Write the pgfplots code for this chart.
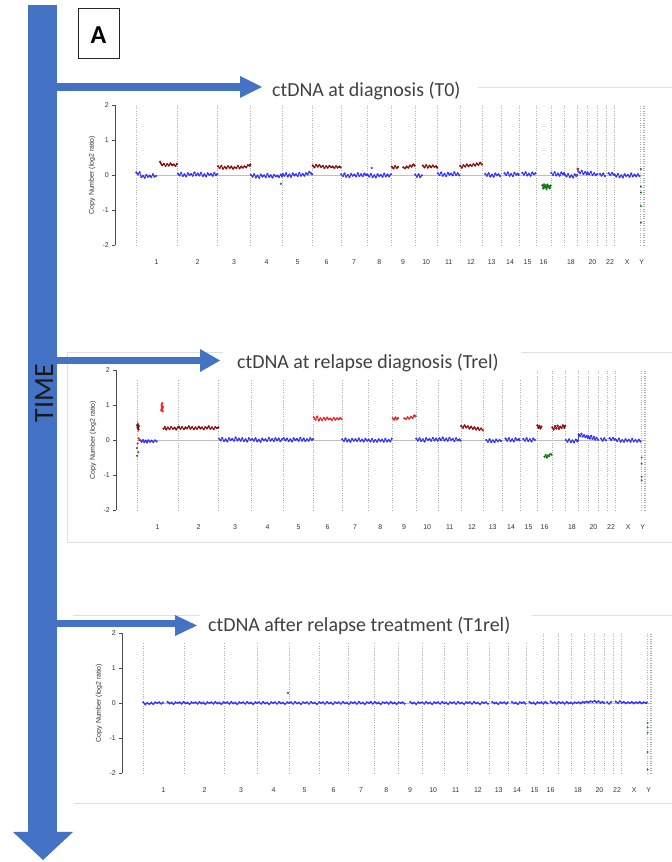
\documentclass[border=0pt]{standalone}
\usepackage{fontspec}
\setmainfont{Liberation Sans}
\newfontfamily\carlito{Carlito}
\usepackage{pgfplots}
\pgfplotsset{compat=1.18}
\definecolor{cnblue}{RGB}{50,50,255}
\definecolor{cndred}{RGB}{140,10,10}
\definecolor{cnred}{RGB}{240,30,30}
\definecolor{cngreen}{RGB}{20,120,20}
\definecolor{cnorange}{RGB}{230,90,20}
\definecolor{arrowblue}{RGB}{68,114,196}
\definecolor{titlegray}{RGB}{64,64,64}
\pgfplotsset{
  cnv/.style={
    scale only axis, width=551.95bp, height=140bp,
    xmin=-125, xmax=3200, ymin=-2, ymax=2,
    axis x line*=bottom, axis y line*=left,
    x axis line style={draw=none},
    y axis line style={draw=black!70, line width=0.5bp},
    ytick={-2,-1,0,1,2},
    /pgf/number format/assume math mode=true,
    yticklabel style={font=\fontsize{7}{8}\selectfont, text=black!80},
    ytick style={draw=black!70, line width=0.5bp},
    tick align=outside, major tick length=3bp,
    xtick={124.5,370.5,591,786,972.5,1148.5,1313.5,1466,1609.5,1748,1883.5,2018,2142.5,2253.5,2358.5,2455,2620,2749.5,2855.5,2958.5,3046},
    xticklabels={1,2,3,4,5,6,7,8,9,10,11,12,13,14,15,16,18,20,22,X,Y},
    xtick style={draw=none},
    xticklabel style={font=\fontsize{7}{8}\selectfont, text=black!80, yshift=-8bp},
    extra x ticks={0,249,492,690,882,1063,1234,1393,1539,1680,1816,1951,2085,2200,2307,2410,2500,2581,2659,2718,2781,2830,2881,3036,3054,3062},
    extra x tick labels={},
    extra x tick style={grid=major, major grid style={black!32, dotted, line width=0.5bp}, tick style={draw=none}},
    ylabel={Copy Number (log2 ratio)},
    every axis y label/.style={at={(axis description cs:-0.042,0.5)}, rotate=90, anchor=center, font=\fontsize{7}{8}\selectfont, text=black!80},
    clip=false,
    unbounded coords=jump,
  },
  zline/.style={black!25, line width=0.6bp},
  segB/.style={draw=cnblue, line width=0.8bp, mark=*, mark size=1.0bp, mark options={fill=cnblue, draw=cnblue, line width=0.2bp}},
  segD/.style={draw=cndred, line width=0.8bp, mark=*, mark size=1.0bp, mark options={fill=cndred, draw=cndred, line width=0.2bp}},
  segR/.style={draw=cnred, line width=0.8bp, mark=*, mark size=1.0bp, mark options={fill=cnred, draw=cnred, line width=0.2bp}},
  segG/.style={draw=cngreen, line width=0.8bp, mark=*, mark size=1.0bp, mark options={fill=cngreen, draw=cngreen, line width=0.2bp}},
  dotG/.style={only marks, mark=*, mark size=0.75bp, mark options={fill=cngreen, draw=cngreen}},
}
\begin{document}
\begin{tikzpicture}[x=1bp,y=1bp]
\path[use as bounding box] (0,0) rectangle (672,862);
% light panel frames
\draw[black!12, line width=0.8bp] (478,775) -- (672,775);
\draw[black!12, line width=0.8bp] (672,510) -| (67,320) -- (672,320);
\draw[black!12, line width=0.8bp] (73,247) -- (672,247);
\draw[black!12, line width=0.8bp] (74,59) -- (672,59);

% ---------------- Panel 1: T0 ----------------
\begin{axis}[cnv, at={(115.25bp,617bp)}, anchor=south west]
\addplot[zline] coordinates {(0,0)(3062,0)};
\addplot[segB] coordinates {
(2,0.07)(12,0.02)(22,0.08)(32,-0.06)(42,-0.02)(52,-0.08)(62,0.0)(72,-0.05)(82,-0.02)(92,-0.06)(102,0.02)(112,-0.05)(120,-0.03)(121,nan)
(252,0.04)(262,-0.01)(272,0.06)(282,-0.03)(292,0.02)(302,-0.04)(312,0.05)(322,0.0)(332,0.03)(342,-0.02)(352,0.07)(362,-0.01)(372,0.04)(382,-0.01)(392,0.06)(402,-0.03)(412,0.02)(422,-0.04)(432,0.05)(442,0.0)(452,0.03)(462,-0.02)(472,0.06)(482,-0.01)(490,0.03)(491,nan)
(692,0.0)(702,-0.05)(712,0.02)(722,-0.07)(732,-0.02)(742,-0.08)(752,0.01)(762,-0.04)(772,-0.01)(782,-0.06)(792,0.03)(802,-0.05)(812,-0.01)(822,-0.07)(832,0.0)(842,-0.04)(852,-0.02)(862,-0.06)(872,0.01)(880,-0.04)
(884,0.03)(894,-0.02)(904,0.05)(914,-0.04)(924,0.01)(934,-0.05)(944,0.04)(954,-0.01)(964,0.02)(974,-0.03)(984,0.06)(994,-0.02)(1004,0.03)(1014,-0.02)(1024,0.05)(1034,0.02)(1044,0.09)(1054,0.05)(1061,0.02)(1062,nan)
(1236,0.02)(1246,-0.03)(1256,0.04)(1266,-0.05)(1276,0.0)(1286,-0.06)(1296,0.03)(1306,-0.02)(1316,0.01)(1326,-0.04)(1336,0.05)(1346,-0.03)(1356,0.02)(1366,-0.03)(1376,0.04)(1386,-0.01)(1391,0.01)
(1395,0.01)(1405,-0.04)(1415,0.03)(1425,-0.06)(1435,-0.01)(1445,-0.07)(1455,0.02)(1465,-0.03)(1475,0.0)(1485,-0.05)(1495,0.04)(1505,-0.04)(1515,0.01)(1525,-0.04)(1535,0.02)(1536,nan)
(1420,0.2)(1421,nan)
(1682,0.01)(1692,-0.05)(1702,0.02)(1712,-0.06)(1722,-0.01)(1723,nan)
(1818,0.05)(1828,0.0)(1838,0.07)(1848,-0.02)(1858,0.03)(1868,-0.03)(1878,0.06)(1888,0.01)(1898,0.04)(1908,-0.01)(1918,0.08)(1928,0.0)(1938,0.05)(1948,-0.01)(1949,nan)
(2104,0.03)(2114,-0.02)(2124,0.05)(2134,-0.04)(2144,0.01)(2154,-0.05)(2164,0.04)(2174,-0.01)(2184,0.02)(2194,-0.03)(2195,nan)
(2220,0.05)(2230,0.0)(2240,0.07)(2250,-0.02)(2260,0.03)(2270,-0.03)(2280,0.06)(2290,0.01)(2300,0.04)(2305,0.0)(2306,nan)
(2327,0.06)(2337,0.01)(2347,0.08)(2357,-0.01)(2367,0.04)(2377,-0.02)(2387,0.07)(2397,0.02)(2406,0.05)(2407,nan)
(2502,0.06)(2512,0.0)(2522,0.08)(2532,-0.01)(2542,0.04)(2552,-0.02)(2562,0.07)(2572,0.02)(2579,0.05)
(2583,0.01)(2593,-0.04)(2603,0.03)(2613,-0.06)(2623,-0.01)(2633,-0.07)(2643,0.02)(2653,-0.03)(2657,0.0)(2658,nan)
(2665,0.1)(2675,0.05)(2685,0.12)(2695,0.03)(2705,0.08)(2715,0.02)
(2720,0.07)(2730,0.02)(2740,0.09)(2750,0.0)(2760,0.05)(2770,-0.01)(2779,0.03)(2780,nan)
(2795,0.03)(2805,-0.02)(2815,0.04)(2825,-0.03)(2826,nan)
(2847,0.05)(2857,0.0)(2867,0.06)(2877,0.01)
(2883,0.01)(2893,-0.04)(2903,0.03)(2913,-0.06)(2923,-0.01)(2933,-0.07)(2943,0.02)(2953,-0.03)(2963,0.0)(2973,-0.05)(2983,0.04)(2993,-0.04)(3003,0.01)(3013,-0.04)(3023,0.02)(3033,-0.03)
};
\addplot[segD] coordinates {
(145,0.38)(150,0.33)(158,0.28)(168,0.32)(178,0.26)(188,0.31)(198,0.27)(208,0.33)(218,0.28)(228,0.3)(238,0.26)(247,0.32)(248,nan)
(494,0.25)(504,0.2)(514,0.26)(524,0.18)(534,0.23)(544,0.19)(554,0.25)(564,0.2)(574,0.24)(584,0.18)(594,0.22)(604,0.2)(614,0.26)(624,0.19)(634,0.24)(644,0.21)(654,0.25)(664,0.22)(674,0.28)(684,0.26)(688,0.3)(689,nan)
(1065,0.27)(1075,0.22)(1085,0.29)(1095,0.24)(1105,0.28)(1115,0.23)(1125,0.26)(1135,0.2)(1145,0.25)(1155,0.21)(1165,0.26)(1175,0.22)(1185,0.24)(1195,0.2)(1205,0.25)(1215,0.21)(1225,0.24)(1232,0.22)(1233,nan)
(1541,0.24)(1551,0.19)(1561,0.25)(1571,0.2)(1578,0.23)(1579,nan)
(1610,0.22)(1620,0.19)(1630,0.24)(1640,0.21)(1650,0.27)(1660,0.24)(1670,0.3)(1678,0.27)(1679,nan)
(1728,0.27)(1738,0.22)(1748,0.28)(1758,0.21)(1768,0.26)(1778,0.22)(1788,0.27)(1798,0.23)(1808,0.25)(1814,0.21)(1815,nan)
(1953,0.26)(1963,0.21)(1973,0.28)(1983,0.24)(1993,0.3)(2003,0.25)(2013,0.29)(2023,0.26)(2033,0.31)(2043,0.27)(2053,0.33)(2063,0.29)(2073,0.35)(2083,0.3)
};
\addplot[segG] coordinates {
(873,-0.25)(874,nan)
(2448,-0.29)(2453,-0.38)(2458,-0.27)(2463,-0.36)(2468,-0.3)(2473,-0.4)(2478,-0.28)(2483,-0.35)(2488,-0.31)(2493,-0.38)(2498,-0.3)
};
\addplot[only marks, mark=*, mark size=1.2bp, mark options={fill=cnorange, draw=cndred}] coordinates {(2662,0.17)};
\addplot[dotG] coordinates {(3042,0.17)(3042,-0.33)(3042,-0.5)(3042,-0.89)(3042,-1.36)};
\end{axis}

% ---------------- Panel 2: Trel ----------------
\begin{axis}[cnv, at={(116.25bp,352bp)}, anchor=south west]
\addplot[zline] coordinates {(0,0)(3062,0)};
\addplot[segB] coordinates {
(20,-0.01)(28,-0.05)(36,0.0)(44,-0.06)(52,-0.02)(60,-0.07)(68,-0.01)(78,-0.05)(88,-0.02)(98,-0.06)(108,-0.01)(118,-0.04)(119,nan)
(494,0.04)(504,-0.01)(514,0.06)(524,-0.03)(534,0.02)(544,-0.04)(554,0.05)(564,0.0)(574,0.03)(584,-0.02)(594,0.07)(604,-0.01)(614,0.04)(624,-0.02)(634,0.05)(644,-0.03)(654,0.02)(664,-0.04)(674,0.05)(684,0.0)
(694,0.03)(704,-0.02)(714,0.05)(724,-0.04)(734,0.01)(744,-0.05)(754,0.04)(764,-0.01)(774,0.02)(784,-0.03)(794,0.06)(804,-0.02)(814,0.03)(824,-0.03)(834,0.05)(844,-0.01)(854,0.04)(864,-0.03)(874,0.02)
(884,0.05)(894,-0.01)(904,0.04)(914,-0.03)(924,0.02)(934,-0.04)(944,0.05)(954,0.0)(964,0.03)(974,-0.02)(984,0.06)(994,-0.02)(1004,0.04)(1014,-0.03)(1024,0.02)(1034,-0.02)(1044,0.05)(1054,0.0)(1061,0.03)(1062,nan)
(1236,0.02)(1246,-0.03)(1256,0.04)(1266,-0.04)(1276,0.01)(1286,-0.05)(1296,0.03)(1306,-0.02)(1316,0.02)(1326,-0.03)(1336,0.04)(1346,-0.03)(1356,0.01)(1366,-0.04)(1376,0.03)(1386,-0.02)(1396,0.01)(1406,-0.04)(1416,0.03)(1426,-0.05)(1436,0.0)(1446,-0.05)(1456,0.02)(1466,-0.03)(1476,0.01)(1486,-0.05)(1496,0.03)(1506,-0.04)(1516,0.0)(1526,-0.04)(1535,0.04)(1536,nan)
(1682,0.04)(1692,-0.02)(1702,0.05)(1712,-0.03)(1722,0.02)(1732,-0.04)(1742,0.05)(1752,0.0)(1762,0.03)(1772,-0.02)(1782,0.06)(1792,-0.01)(1802,0.04)(1812,-0.02)(1822,0.05)(1832,0.0)(1842,0.07)(1852,-0.01)(1862,0.04)(1872,-0.02)(1882,0.06)(1892,0.0)(1902,0.03)(1912,-0.03)(1922,0.05)(1932,-0.01)(1942,0.02)(1949,-0.02)(1950,nan)
(2104,0.0)(2114,-0.05)(2124,0.02)(2134,-0.06)(2144,-0.01)(2154,-0.06)(2164,0.01)(2174,-0.04)(2184,0.0)(2194,-0.03)(2195,nan)
(2220,0.04)(2230,-0.02)(2240,0.05)(2250,-0.03)(2260,0.02)(2270,-0.04)(2280,0.05)(2290,0.0)(2300,0.03)(2305,-0.01)(2306,nan)
(2327,0.03)(2337,-0.02)(2347,0.05)(2357,-0.03)(2367,0.02)(2377,-0.04)(2387,0.04)(2397,0.0)(2398,nan)
(2583,0.0)(2593,-0.05)(2603,0.02)(2613,-0.06)(2623,-0.01)(2633,-0.07)(2643,0.01)(2653,-0.04)(2657,-0.01)
(2661,0.16)(2669,0.11)(2677,0.18)(2685,0.1)(2693,0.14)(2701,0.08)(2709,0.12)(2716,0.06)
(2720,0.1)(2728,0.04)(2736,0.12)(2744,0.03)(2752,0.09)(2760,0.01)(2768,0.06)(2778,0.0)(2779,nan)
(2795,0.04)(2805,-0.02)(2815,0.05)(2825,-0.01)(2826,nan)
(2847,0.05)(2857,0.0)(2867,0.06)(2877,0.01)
(2883,0.02)(2893,-0.03)(2903,0.04)(2913,-0.05)(2923,0.0)(2933,-0.05)(2943,0.02)(2953,-0.03)(2963,0.01)(2973,-0.05)(2983,0.03)(2993,-0.04)(3003,0.0)(3013,-0.05)(3023,0.01)(3033,-0.04)
};
\addplot[segD] coordinates {
(1,0.42)(3,0.35)(5,0.45)(7,0.38)(9,0.31)(11,0.4)(12,nan)
(160,0.32)(168,0.37)(176,0.3)(186,0.36)(196,0.31)(206,0.37)(216,0.32)(226,0.35)(236,0.3)(246,0.36)
(252,0.38)(262,0.32)(272,0.37)(282,0.31)(292,0.36)(302,0.33)(312,0.39)(322,0.32)(332,0.37)(342,0.31)(352,0.36)(362,0.32)(372,0.38)(382,0.33)(392,0.36)(402,0.31)(412,0.37)(422,0.33)(432,0.39)(442,0.32)(452,0.36)(462,0.31)(472,0.37)(482,0.34)(490,0.36)(491,nan)
(1953,0.4)(1963,0.35)(1973,0.42)(1983,0.36)(1993,0.39)(2003,0.33)(2013,0.38)(2023,0.32)(2033,0.36)(2043,0.3)(2053,0.35)(2063,0.29)(2073,0.33)(2083,0.28)(2084,nan)
(2412,0.42)(2418,0.35)(2424,0.4)(2430,0.33)(2436,0.38)(2437,nan)
(2502,0.36)(2510,0.3)(2518,0.4)(2526,0.33)(2534,0.41)(2542,0.32)(2550,0.38)(2558,0.34)(2566,0.42)(2574,0.35)(2579,0.4)
};
\addplot[segR] coordinates {
(4,-0.1)(5,nan)(7,-0.35)(8,nan)(10,0.05)(11,nan)(14,0.0)(15,nan)
(146,0.85)(148,1.0)(150,0.9)(152,1.05)(154,0.82)(156,0.95)(157,nan)
(1065,0.65)(1075,0.58)(1085,0.67)(1095,0.56)(1105,0.62)(1115,0.57)(1125,0.63)(1135,0.58)(1145,0.64)(1155,0.59)(1165,0.61)(1175,0.57)(1185,0.63)(1195,0.58)(1205,0.62)(1215,0.59)(1225,0.63)(1232,0.6)(1233,nan)
(1541,0.62)(1549,0.58)(1557,0.64)(1565,0.59)(1573,0.63)(1574,nan)
(1610,0.62)(1620,0.6)(1630,0.65)(1640,0.61)(1650,0.66)(1660,0.63)(1670,0.7)(1678,0.68)
};
\addplot[segG] coordinates {
(0,-0.23)(1,nan)(1,-0.45)(2,nan)
(2455,-0.48)(2462,-0.43)(2469,-0.5)(2476,-0.44)(2483,-0.46)(2490,-0.4)(2497,-0.42)
};
\addplot[dotG] coordinates {(3040,-0.5)(3040,-0.68)(3040,-1.05)(3040,-1.15)};
\end{axis}

% ---------------- Panel 3: T1rel ----------------
\begin{axis}[cnv, at={(122.25bp,89bp)}, anchor=south west]
\addplot[zline] coordinates {(0,0)(3062,0)};
\addplot[segB] coordinates {
(2,0.02)(14,-0.04)(26,0.0)(38,-0.03)(50,0.01)(62,-0.03)(74,0.02)(86,0.0)(98,0.02)(110,-0.02)(120,0.01)(121,nan)
(148,0.03)(160,-0.01)(172,0.01)(184,-0.03)(196,0.02)(208,0.0)(220,0.02)(232,-0.02)(244,0.03)(256,-0.01)(268,0.01)(280,-0.03)(292,0.02)(304,0.0)(316,0.02)(328,-0.02)(340,0.03)(352,-0.01)(364,0.01)(376,-0.03)(388,0.02)(400,0.0)(412,0.02)(424,-0.02)(436,0.03)(448,-0.01)(460,0.01)(472,-0.03)(484,0.02)(496,0.0)(508,0.02)(520,-0.02)(532,0.03)(544,-0.01)(556,0.01)(568,-0.03)(580,0.02)(592,0.0)(604,0.02)(616,-0.02)(628,0.03)(640,-0.01)(652,0.01)(664,-0.03)(676,0.02)(688,0.0)(700,0.02)(712,-0.02)(724,0.03)(736,-0.01)(748,0.01)(760,-0.03)(772,0.02)(784,0.0)(796,0.02)(808,-0.02)(820,0.03)(832,-0.01)(844,0.01)(856,-0.03)(868,0.02)(880,0.0)(892,0.02)(904,-0.02)(916,0.03)(928,-0.01)(940,0.01)(952,-0.03)(964,0.02)(976,0.0)(988,0.02)(1000,-0.02)(1012,0.03)(1024,-0.01)(1036,0.01)(1048,-0.03)(1060,0.02)(1072,0.0)(1084,0.02)(1096,-0.02)(1108,0.03)(1120,-0.01)(1132,0.01)(1144,-0.03)(1156,0.02)(1168,0.0)(1180,0.02)(1192,-0.02)(1204,0.03)(1216,-0.01)(1228,0.01)(1240,-0.03)(1252,0.02)(1264,0.0)(1276,0.02)(1288,-0.02)(1300,0.03)(1312,-0.01)(1324,0.01)(1336,-0.03)(1348,0.02)(1360,0.0)(1372,0.03)(1384,-0.02)(1396,0.03)(1408,-0.01)(1420,0.01)(1432,-0.03)(1444,0.02)(1456,0.0)(1468,0.02)(1480,-0.02)(1492,0.03)(1504,-0.01)(1516,0.01)(1528,-0.03)(1540,0.02)(1552,0.0)(1564,0.02)(1576,-0.02)(1580,nan)
(1610,0.03)(1622,-0.01)(1634,0.01)(1646,-0.03)(1658,0.02)(1670,0.0)(1682,0.02)(1694,-0.02)(1706,0.03)(1718,-0.01)(1730,0.01)(1742,-0.03)(1754,0.02)(1766,0.0)(1778,0.02)(1790,-0.02)(1802,0.03)(1814,-0.01)(1826,0.01)(1838,-0.03)(1850,0.02)(1862,0.0)(1874,0.02)(1886,-0.02)(1898,0.03)(1910,-0.01)(1922,0.01)(1934,-0.03)(1946,0.02)(1958,0.0)(1970,0.02)(1982,-0.02)(1994,0.03)(2006,-0.01)(2018,0.01)(2030,-0.03)(2042,0.02)(2054,0.0)(2066,0.02)(2078,-0.02)(2080,nan)
(2104,0.03)(2116,-0.01)(2128,0.01)(2140,-0.03)(2152,0.02)(2164,0.0)(2176,0.02)(2188,-0.02)(2196,0.01)(2198,nan)
(2222,0.03)(2234,-0.01)(2246,0.01)(2258,-0.03)(2270,0.02)(2282,0.0)(2294,0.02)(2304,-0.02)(2305,nan)
(2328,0.03)(2340,-0.01)(2352,0.01)(2364,-0.03)(2376,0.02)(2388,0.0)(2400,0.02)(2412,-0.02)(2424,0.03)(2436,-0.01)(2437,nan)
(2456,0.04)(2468,0.0)(2480,0.02)(2492,-0.02)(2504,0.03)(2516,0.0)(2528,0.02)(2540,-0.02)(2552,0.03)(2564,-0.01)(2576,0.01)(2588,-0.02)(2600,0.02)(2612,0.0)(2624,0.02)(2636,-0.01)(2648,0.03)(2660,0.01)(2672,0.04)(2684,0.02)(2696,0.05)(2708,0.03)(2720,0.06)(2732,0.02)(2744,0.05)(2756,0.01)(2768,0.03)(2778,0.0)(2780,nan)
(2796,0.02)(2808,-0.02)(2820,0.03)(2828,nan)
(2848,0.04)(2860,0.0)(2872,0.05)(2884,0.01)(2896,0.03)(2908,-0.01)(2920,0.02)(2932,0.0)(2944,0.03)(2956,-0.01)(2968,0.02)(2980,0.0)(2992,0.03)(3004,-0.01)(3016,0.02)(3028,0.0)(3034,0.01)(3035,nan)
(873,0.29)(874,nan)
};
\addplot[dotG] coordinates {(3040,-0.57)(3040,-0.7)(3040,-0.85)(3040,-1.4)(3040,-1.9)};
\end{axis}

% white title boxes (cover frame lines and tops of dotted lines)
\fill[white] (223,519) -- (521,519) -- (521,482) -- (125,482) -- (125,507) -- (223,507) -- cycle;
\fill[white] (200,254) -- (532,254) -- (532,219) -- (125,219) -- (125,245) -- (200,245) -- cycle;

% titles
\node[anchor=base west, inner sep=0, font=\carlito\fontsize{20}{24}\selectfont, text=titlegray] at (272,765) {ctDNA at diagnosis (T0)};
\node[anchor=base west, inner sep=0, font=\carlito\fontsize{20}{24}\selectfont, text=titlegray] at (237,493.5) {ctDNA at relapse diagnosis (Trel)};
\node[anchor=base west, inner sep=0, font=\carlito\fontsize{20}{24}\selectfont, text=titlegray] at (208,230) {ctDNA after relapse treatment (T1rel)};

% time arrow
\fill[arrowblue] (28,857) rectangle (57,30);
\fill[arrowblue] (13,30) -- (73,30) -- (43,2) -- cycle;
% horizontal arrows
\fill[arrowblue] (57,771) rectangle (241,779);
\fill[arrowblue] (240,786) -- (240,764) -- (262,775) -- cycle;
\fill[arrowblue] (57,498) rectangle (201,505);
\fill[arrowblue] (200,513) -- (200,490) -- (220,501.5) -- cycle;
\fill[arrowblue] (57,235) rectangle (176,242);
\fill[arrowblue] (175,247) -- (175,226) -- (197,236.5) -- cycle;

\node[rotate=90, anchor=base, inner sep=0, font=\carlito\fontsize{28}{30}\selectfont, text=black!90] at (53,469) {TIME};

% panel letter
\draw[black!85, line width=0.8bp, fill=white] (78,854) rectangle (119,804);
\node[anchor=base, inner sep=0, font=\carlito\bfseries\fontsize{26}{28}\selectfont] at (98.5,818) {A};
\end{tikzpicture}
\end{document}
